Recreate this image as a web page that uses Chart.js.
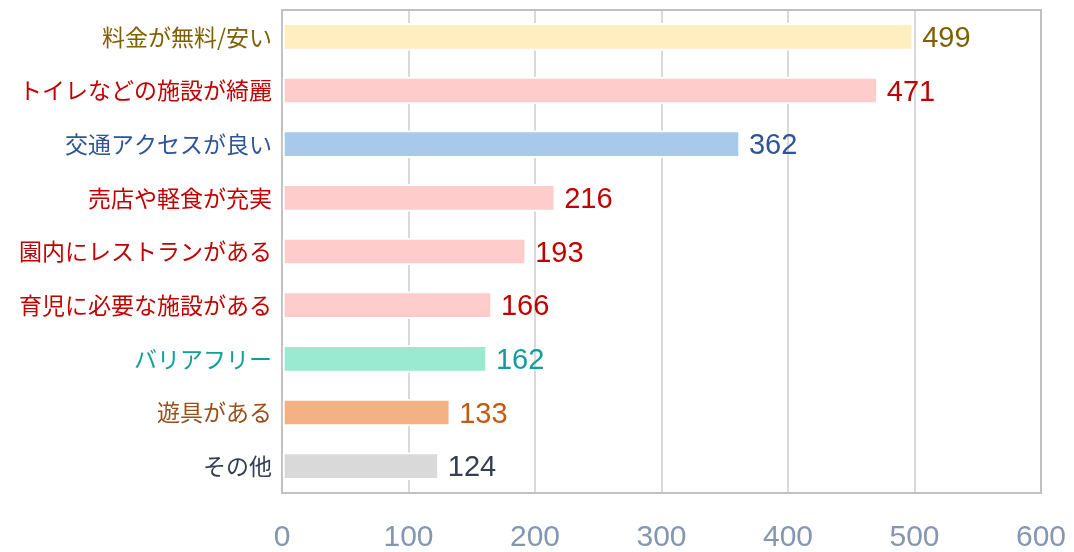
<!DOCTYPE html>
<html>
<head>
<meta charset="utf-8">
<script src="https://cdn.jsdelivr.net/npm/chart.js@4"></script>
<style>
  html, body { margin: 0; padding: 0; background: #fff; }
  #wrap { width: 1074px; height: 552px; }
</style>
</head>
<body>
<div id="wrap"><canvas id="chart"></canvas></div>
<script>
// データ
const categories = ['料金が無料/安い', 'トイレなどの施設が綺麗', '交通アクセスが良い', '売店や軽食が充実',
  '園内にレストランがある', '育児に必要な施設がある', 'バリアフリー', '遊具がある', 'その他'];
const counts = [499, 471, 362, 216, 193, 166, 162, 133, 124];
const xTicks = [0, 100, 200, 300, 400, 500, 600];

const barColors = ['#ffeec0', '#ffcccc', '#a7c9ea', '#ffcccc', '#ffcccc', '#ffcccc', '#9aead2', '#f4b284', '#d9d9d9'];
const labelColors = ['#7f6000', '#c00000', '#2f5597', '#c00000', '#c00000', '#c00000', '#0f9e99', '#94501e', '#333f50'];
const valueColors = ['#7f6000', '#c00000', '#2f5597', '#c00000', '#c00000', '#c00000', '#0f9e99', '#c55a11', '#333f50'];

// 枠線
const framePlugin = {
  id: 'frame',
  beforeDatasetsDraw(chart) {
    const { ctx, chartArea: a } = chart;
    ctx.save();
    ctx.strokeStyle = '#c0c0c0';
    ctx.lineWidth = 2;
    ctx.beginPath();
    ctx.moveTo(a.left, a.top);
    ctx.lineTo(a.right, a.top);
    ctx.lineTo(a.right, a.bottom);
    ctx.lineTo(a.left, a.bottom);
    ctx.stroke();
    ctx.restore();
  }
};

// 数値ラベル
const valuePlugin = {
  id: 'values',
  afterDatasetsDraw(chart) {
    const { ctx } = chart;
    const meta = chart.getDatasetMeta(0);
    ctx.save();
    ctx.font = '29px "Liberation Sans", Arial, sans-serif';
    ctx.textBaseline = 'middle';
    ctx.textAlign = 'left';
    meta.data.forEach((bar, i) => {
      ctx.fillStyle = valueColors[i];
      ctx.fillText(String(counts[i]), bar.x + 9, bar.y + 2);
    });
    ctx.restore();
  }
};

new Chart(document.getElementById('chart'), {
  type: 'bar',
  data: {
    labels: categories,
    datasets: [{
      data: counts,
      backgroundColor: barColors,
      borderColor: '#ffffff',
      borderWidth: 2,
      borderSkipped: false,
      barThickness: 27
    }]
  },
  plugins: [framePlugin, valuePlugin],
  options: {
    indexAxis: 'y',
    responsive: true,
    maintainAspectRatio: false,
    animation: false,
    layout: { padding: { top: 10, right: 33, left: 0, bottom: 0 } },
    plugins: {
      legend: { display: false },
      tooltip: { enabled: false }
    },
    scales: {
      x: {
        min: 0,
        max: 600,
        afterBuildTicks(scale) {
          scale.ticks = xTicks.map(v => ({ value: v }));
        },
        afterFit(scale) {
          scale.height = 59;
          scale.paddingLeft = 0;
          scale.paddingRight = 0;
        },
        grid: { color: '#d9d9d9', lineWidth: 2, drawTicks: false },
        border: { display: true, color: '#c0c0c0', width: 2 },
        ticks: {
          padding: 27,
          color: '#8497b0',
          font: { family: '"Liberation Sans", Arial, sans-serif', size: 30 }
        }
      },
      y: {
        afterFit(scale) {
          scale.width = 282;
          scale.paddingTop = 0;
          scale.paddingBottom = 0;
        },
        grid: { display: false, drawTicks: false },
        border: { display: true, color: '#c0c0c0', width: 2 },
        ticks: {
          padding: 10,
          color: ctx => labelColors[ctx.index],
          font: { family: '"Noto Sans CJK JP", sans-serif', size: 23 }
        }
      }
    }
  }
});
</script>
</body>
</html>
